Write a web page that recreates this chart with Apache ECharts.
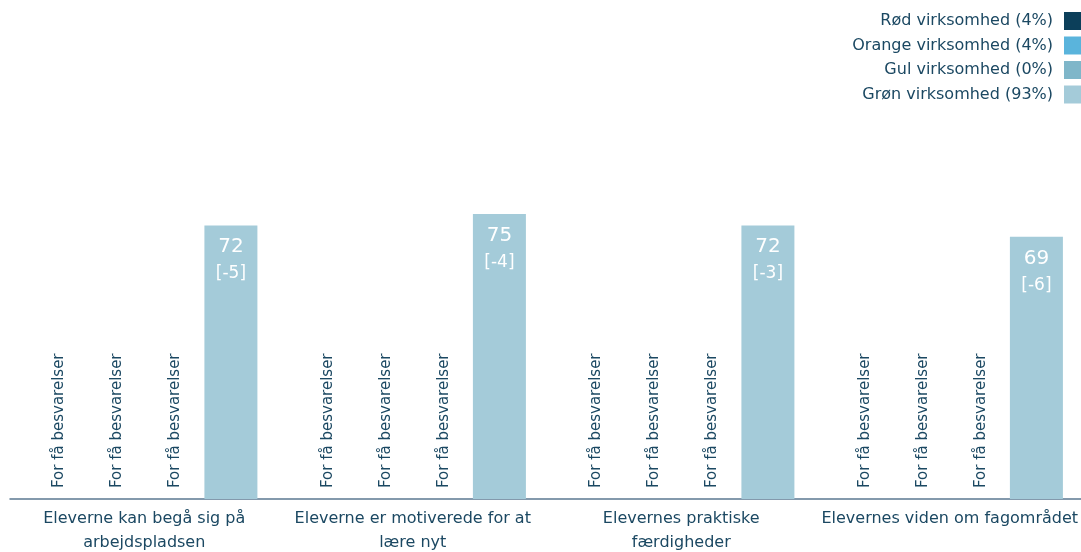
<!DOCTYPE html>
<html><head><meta charset="utf-8">
<script src="https://cdn.jsdelivr.net/npm/echarts@6/dist/echarts.min.js"></script>
<style>html,body{margin:0;padding:0;background:#fff}#c{width:1081px;height:552px}</style>
</head><body><div id="c"></div>
<script>
const categories = ['Eleverne kan begå sig på\narbejdspladsen','Eleverne er motiverede for at\nlære nyt','Elevernes praktiske\nfærdigheder','Elevernes viden om fagområdet'];
const seriesNames = ['Rød virksomhed (4%)','Orange virksomhed (4%)','Gul virksomhed (0%)','Grøn virksomhed (93%)'];
const rodValues = [0,0,0,0];
const orangeValues = [0,0,0,0];
const gulValues = [0,0,0,0];
const gronValues = [72,75,72,69];
const gronDeltas = [-5,-4,-3,-6];
const tooFewText = 'For få besvarelser';
const colors = ['#0c3f5a','#5ab4dc','#7fb6c9','#a4cbd9'];
const textColor = '#1b4862';
const font = 'DejaVu Sans';

const tooFewLabel = {show:true, position:'insideBottom', rotate:90, align:'left', verticalAlign:'middle', distance:11,
  offset:[0,2], formatter: tooFewText, color:textColor, fontSize:15, fontFamily:font};
function mk(name, data, color, label){
  return {name, type:'bar', data, barWidth:53, barGap:'9%', itemStyle:{color}, label, animation:false};
}
const chart = echarts.init(document.getElementById('c'));
chart.setOption({
  animation:false,
  legend:{orient:'vertical', right:0, top:12, padding:0, align:'right', itemWidth:17, itemHeight:18, itemGap:6.5,
    icon:'rect', textStyle:{color:textColor, fontSize:16, fontFamily:font, padding:[0,6,0,0]}, data:seriesNames},
  grid:{left:10, right:-3, top:119, bottom:53, outerBoundsMode:'none', containLabel:false},
  xAxis:{type:'category', data:categories, axisTick:{show:false},
    axisLine:{lineStyle:{color:'#5b7891', width:1.5}},
    axisLabel:{color:textColor, fontSize:16, fontFamily:font, lineHeight:24, margin:8, interval:0}},
  yAxis:{type:'value', min:0, max:100, show:false, splitLine:{show:false}},
  series:[
    mk(seriesNames[0], rodValues, colors[0], tooFewLabel),
    mk(seriesNames[1], orangeValues, colors[1], tooFewLabel),
    mk(seriesNames[2], gulValues, colors[2], tooFewLabel),
    mk(seriesNames[3], gronValues, colors[3], {show:true, position:'insideTop', distance:8, color:'#fff',
      fontFamily:font,
      formatter: p => '{v|' + p.value + '}\n{d|[' + gronDeltas[p.dataIndex] + ']}',
      rich:{v:{fontSize:20, lineHeight:27, color:'#fff', fontFamily:font, align:'center'},
            d:{fontSize:17, lineHeight:27, color:'#fff', fontFamily:font, align:'center'}}})
  ]
});
</script></body></html>
